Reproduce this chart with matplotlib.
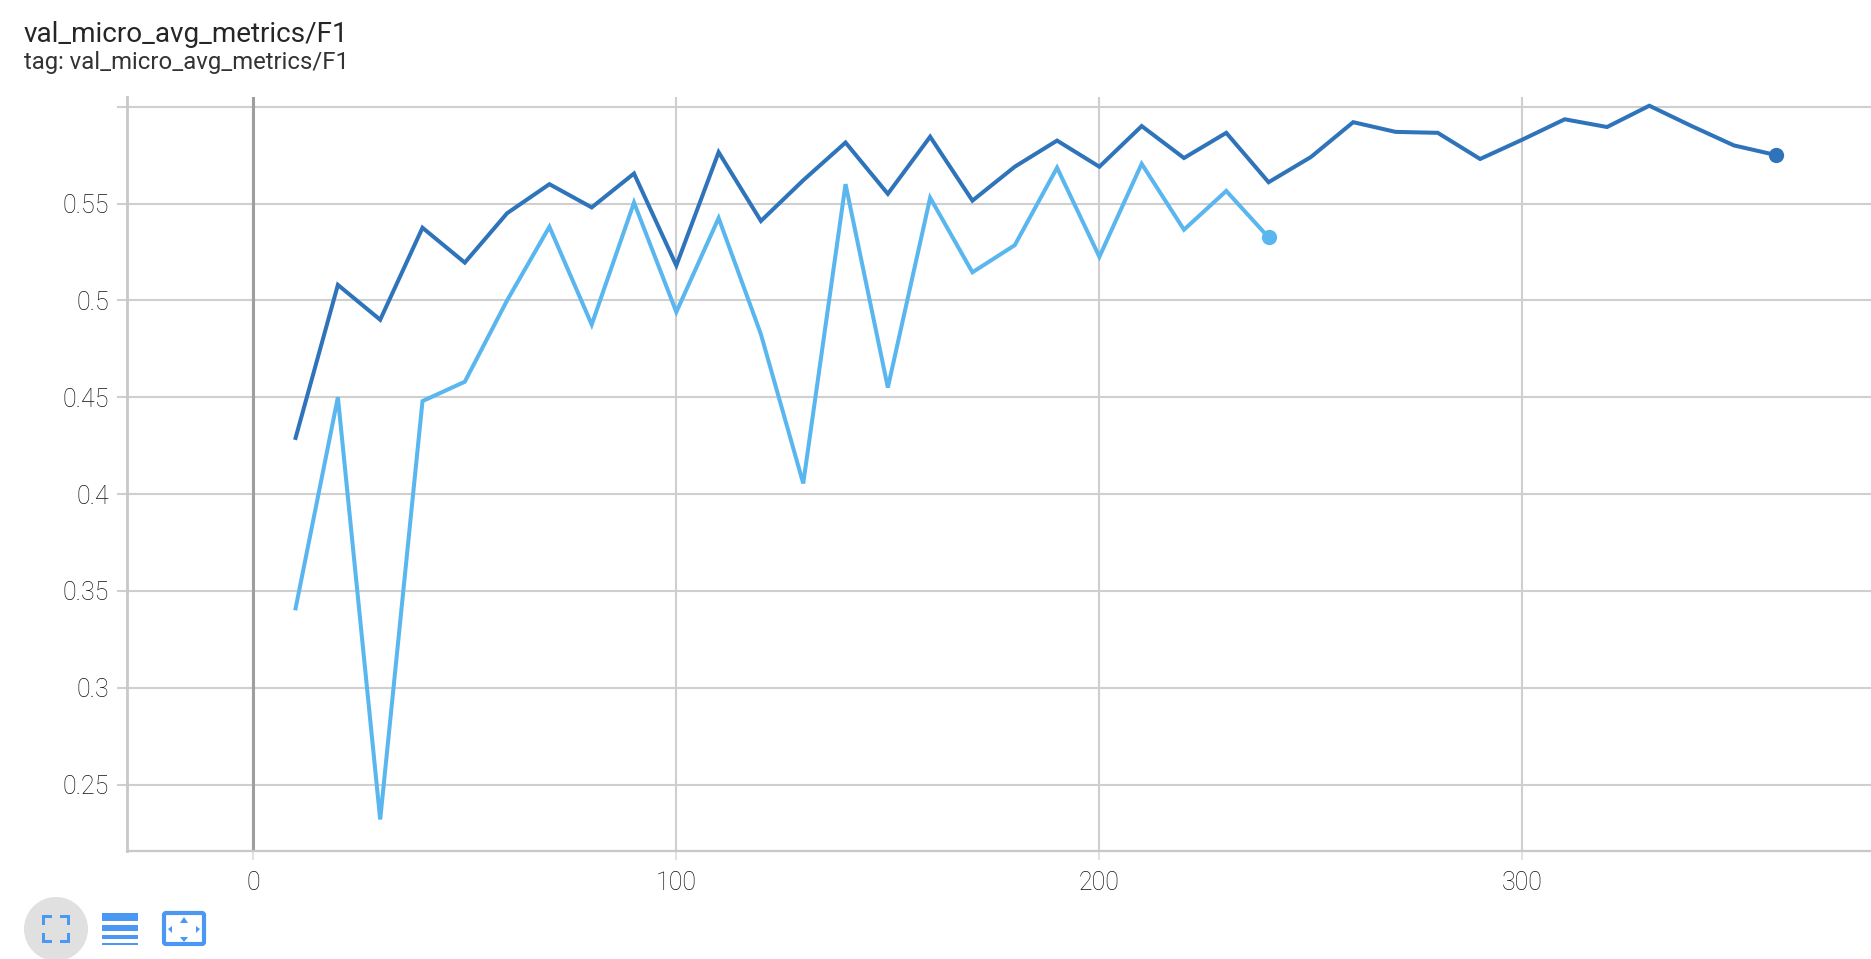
import matplotlib
matplotlib.use("Agg")
from matplotlib import pyplot as plt
from matplotlib.patches import Circle, Rectangle, FancyBboxPatch, Polygon

title = "val_micro_avg_metrics/F1"
subtitle = "tag: val_micro_avg_metrics/F1"

# dark run, goes the whole way
steps_dark = [10, 20, 30, 40, 50, 60, 70, 80, 90, 100, 110, 120, 130, 140, 150, 160, 170, 180,
              190, 200, 210, 220, 230, 240, 250, 260, 270, 280, 290, 300, 310, 320, 330, 340, 350, 360]
f1_dark = [.429, .508, .490, .5375, .5195, .545, .560, .548, .5655, .518, .5765, .541, .562, .5815,
           .555, .5845, .5515, .569, .5825, .569, .590, .5735, .5865, .561, .574, .592, .587, .5865,
           .573, .583, .5935, .5895, .6005, .590, .580, .575]

# light run, stops at 240
steps_light = [10, 20, 30, 40, 50, 60, 70, 80, 90, 100, 110, 120, 130, 140, 150, 160, 170, 180,
               190, 200, 210, 220, 230, 240]
f1_light = [.341, .450, .232, .448, .458, .500, .538, .4875, .5505, .494, .5425, .4825, .4055, .560,
            .455, .553, .5145, .5285, .5685, .5225, .5705, .5365, .5565, .5325]

xticks = [0, 100, 200, 300]
yticks = [.25, .3, .35, .4, .45, .5, .55, .6]
ylabels = ["0.25", "0.3", "0.35", "0.4", "0.45", "0.5", "0.55", ""]

W, H = 1871, 959
plt.rcParams['font.family'] = ['Roboto', 'DejaVu Sans']

fig = plt.figure(figsize=(W / 100, H / 100), dpi=100)
ax = fig.add_axes([127 / W, 1 - 850.5 / H, (W - 127) / W, (850.5 - 97) / H])
ax.set_xlim(-29.85, 382.4)
ax.set_ylim(.2160, .6050)

for s in ['top', 'right', 'left']:
    ax.spines[s].set_visible(False)
ax.spines['bottom'].set_color('#c8c8c8')
ax.spines['bottom'].set_linewidth(1.6)

ax.set_xticks(xticks)
ax.set_yticks(yticks)
ax.set_yticklabels(ylabels, fontweight='light')
ax.set_xticklabels([str(t) for t in xticks], fontweight='light')
ax.grid(True, color='#cfcfcf', linewidth=1.5)
ax.set_axisbelow(True)
ax.tick_params(axis='x', length=6.5, width=1.5, color='#e2e2e2', pad=8.5, labelsize=18, labelcolor='#111111')
ax.tick_params(axis='y', length=7, width=1.5, color='#cfcfcf', pad=6, labelsize=18, labelcolor='#111111')
ax.axvline(0, color='#9e9e9e', linewidth=2.2, zorder=1)
ax.axvline(-29.85, color='#c8c8c8', linewidth=2.0, zorder=1, clip_on=False)

ax.plot(steps_dark, f1_dark, color='#2f74bb', linewidth=2.9, solid_joinstyle='miter', zorder=3)
ax.plot(steps_dark[-1], f1_dark[-1], 'o', color='#2f74bb', markersize=11, markeredgewidth=0, zorder=4)
ax.plot(steps_light, f1_light, color='#5ab6ee', linewidth=2.9, solid_joinstyle='miter', zorder=3)
ax.plot(steps_light[-1], f1_light[-1], 'o', color='#5ab6ee', markersize=11, markeredgewidth=0, zorder=4)

fig.text(24 / W, 1 - 34 / H, title, fontsize=20.1, color='#262626', va='center')
fig.text(24 / W, 1 - 63 / H, subtitle, fontsize=17.2, color='#333333', va='center')

# icon row under the plot
overlay = fig.add_axes([0, 0, 1, 1])
overlay.set_xlim(0, W)
overlay.set_ylim(H, 0)
overlay.axis('off')
blue = '#4a98f3'
overlay.add_patch(Circle((56, 929), 32, color='#e0e0e0', lw=0))
for cx, sx in ((42, 1), (70, -1)):
    for cy, sy in ((915, 1), (943, -1)):
        overlay.add_patch(Rectangle((cx, cy - (0 if sy > 0 else 3)), 10 * sx, 3 * 1, color=blue, lw=0))
        overlay.add_patch(Rectangle((cx, cy), 3 * sx, 10 * sy, color=blue, lw=0))
for top, h in ((913, 8), (925, 6), (935, 4), (943, 2)):
    overlay.add_patch(Rectangle((102, top), 36, h, color=blue, lw=0))
overlay.add_patch(FancyBboxPatch((164, 913), 40, 31, boxstyle='round,pad=0,rounding_size=2',
                                 fill=False, edgecolor=blue, linewidth=3))
for pts in (((180, 923), (188, 923), (184, 917)), ((180, 937), (188, 937), (184, 942)),
            ((172, 926), (172, 933), (168, 929)), ((196, 926), (196, 933), (200, 929))):
    overlay.add_patch(Polygon(pts, color=blue, lw=0))

fig.savefig("out.png", dpi=100)
